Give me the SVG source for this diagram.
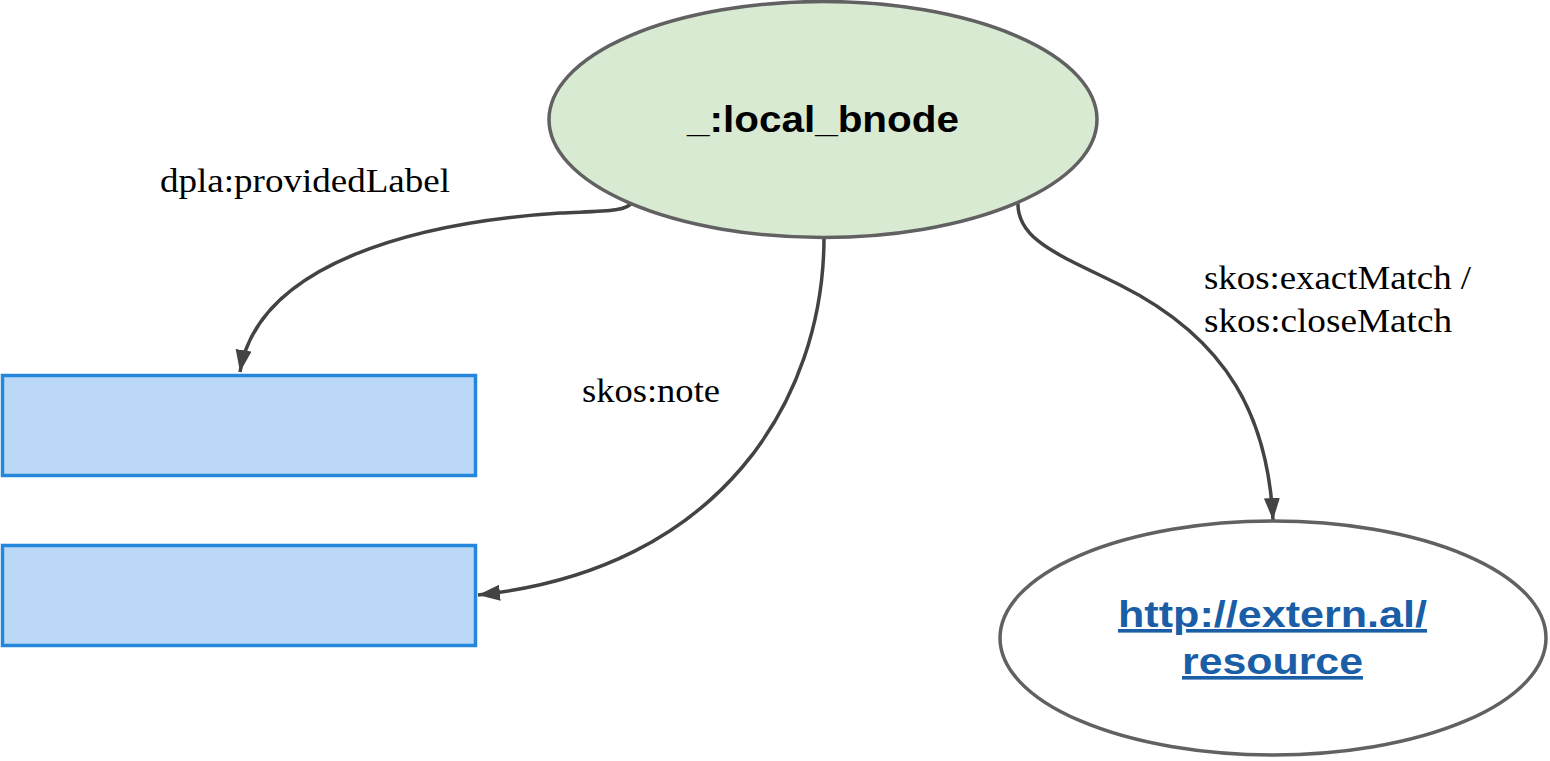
<svg xmlns="http://www.w3.org/2000/svg" width="1550" height="761" viewBox="0 0 1550 761">
<style>
.ell{stroke:#616161;stroke-width:3.5}
.box{fill:#bbd8f6;stroke:#2587dc;stroke-width:3.5}
.edge{fill:none;stroke:#434343;stroke-width:3.5}
.lbl{font-family:"Liberation Serif","Times New Roman",serif;font-size:33px;fill:#000}
.bold{font-family:"Liberation Sans",Arial,sans-serif;font-weight:bold;font-size:36px}
</style>
<defs>
<marker id="arr" markerUnits="userSpaceOnUse" markerWidth="24" markerHeight="18" refX="22" refY="8" orient="auto" viewBox="0 0 24 18">
<path d="M0,0 L22,8 L0,16 z" fill="#434343"/>
</marker>
</defs>
<g id="connectors">
<path class="edge" d="M632,202 C628,212 600,211 560,213 C420,222 258,262 240,372" marker-end="url(#arr)"/>
<path class="edge" d="M824,237 C824,400 720,570 478,595" marker-end="url(#arr)"/>
<path class="edge" d="M1018,200 C1015,240 1060,255 1120,285 C1230,340 1268,420 1273,520" marker-end="url(#arr)"/>
</g>
<g id="label-providedLabel"><text class="lbl" x="160" y="192" textLength="290" lengthAdjust="spacingAndGlyphs">dpla:providedLabel</text></g>
<g id="label-note"><text class="lbl" x="582" y="402" textLength="138" lengthAdjust="spacingAndGlyphs">skos:note</text></g>
<g id="label-match">
<text class="lbl" x="1204" y="289" textLength="267" lengthAdjust="spacingAndGlyphs">skos:exactMatch /</text>
<text class="lbl" x="1204" y="332" textLength="248" lengthAdjust="spacingAndGlyphs">skos:closeMatch</text>
</g>
<g id="node-local-bnode">
<ellipse class="ell" cx="823" cy="119.5" rx="274" ry="118" fill="#d9ead3"/>
<text class="bold" x="687" y="132" textLength="272" lengthAdjust="spacingAndGlyphs" fill="#000">_:local_bnode</text>
</g>
<g id="node-box1"><rect class="box" x="2.5" y="375.5" width="473" height="100"/></g>
<g id="node-box2"><rect class="box" x="2.5" y="545.5" width="473" height="100"/></g>
<g id="node-extern">
<ellipse class="ell" cx="1273" cy="638" rx="273" ry="117" fill="#ffffff"/>
<text class="bold" x="1118" y="627" textLength="309" lengthAdjust="spacingAndGlyphs" fill="#1a5ea7" text-decoration="underline">http://extern.al/</text>
<text class="bold" x="1182" y="674" textLength="181" lengthAdjust="spacingAndGlyphs" fill="#1a5ea7" text-decoration="underline">resource</text>
</g>
</svg>
